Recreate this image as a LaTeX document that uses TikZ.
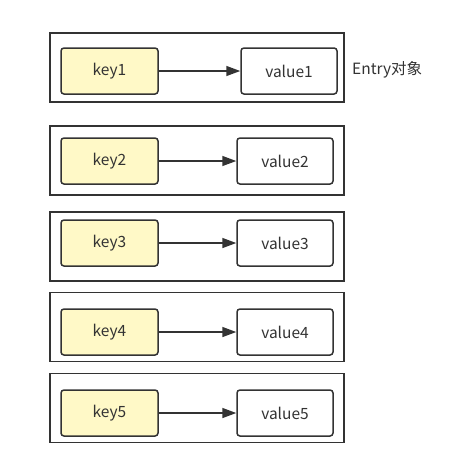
\documentclass[tikz,border=0pt]{standalone}
\usepackage{fontspec}
\setmainfont{Noto Sans CJK SC}
\usetikzlibrary{positioning,arrows.meta}

\definecolor{keyfill}{HTML}{FFF9C7}
\definecolor{linegray}{HTML}{333333}
\definecolor{textgray}{HTML}{333333}

\begin{document}
\begin{tikzpicture}[
            x=1pt, y=-1pt,
            font=\fontsize{15.5}{18}\selectfont,
            entrybox/.style={draw=linegray,line width=1.5pt,minimum width=294pt,minimum height=69pt,inner sep=0pt},
            keybox/.style={draw=linegray,fill=keyfill,line width=1.5pt,rounded corners=3pt,minimum width=97pt,minimum height=46pt,inner sep=0pt,text=textgray},
            valbox/.style={draw=linegray,fill=white,line width=1.5pt,rounded corners=3pt,minimum width=96pt,minimum height=46pt,inner sep=0pt,text=textgray},
            link/.style={draw=linegray,line width=1.5pt,-{Triangle[length=14pt,width=10pt]}}]
            \useasboundingbox[fill=white] (0,0) rectangle (463,461);
            \node[entrybox](entry1) at (197,67.5){};
            \node[entrybox](entry2) at (197,160.5){};
            \node[entrybox](entry3) at (197,246.5){};
            \node[entrybox](entry4) at (197,327){};
            \node[entrybox](entry5) at (197,408){};
            
            \node[keybox](key1) at (109.5,71){key1};
            \node[keybox](key2) at (109.5,161){key2};
            \node[keybox](key3) at (109.5,243){key3};
            \node[keybox](key4) at (109.5,332){key4};
            \node[keybox](key5) at (109.5,413){key5};
            
            \node[valbox](value1) at (289,71){value1};
            \node[valbox](value2) at (285,161){value2};
            \node[valbox](value3) at (285,243){value3};
            \node[valbox](value4) at (285,332){value4};
            \node[valbox](value5) at (285,413){value5};
            
            \node[anchor=west,text=textgray,inner sep=0pt](label) at (352,70){Entry对象};
            
            \path (key1) edge[link] (value1)
            (key2) edge[link] (value2)
            (key3) edge[link] (value3)
            (key4) edge[link] (value4)
            (key5) edge[link] (value5);
            \end{tikzpicture}
\end{document}
